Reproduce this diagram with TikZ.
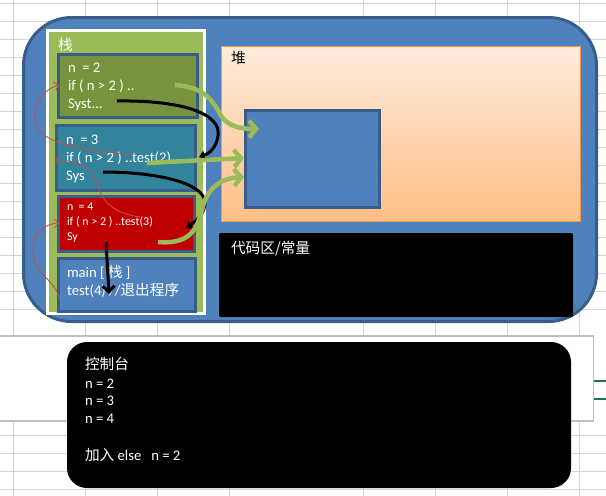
\documentclass[tikz,border=0pt]{standalone}
\usepackage{fontspec}
\setmainfont{Carlito}
\newfontfamily\cjk{Noto Sans CJK SC}
\usetikzlibrary{arrows.meta}
\definecolor{mainblue}{HTML}{4F81BD}
\definecolor{darkblue}{HTML}{385D8A}
\definecolor{stackgreen}{HTML}{9BBB59}
\definecolor{framegreen}{HTML}{77933C}
\definecolor{frameteal}{HTML}{31849B}
\definecolor{framered}{HTML}{C00000}
\definecolor{redline}{HTML}{C0504D}
\definecolor{heapborder}{HTML}{F79646}
\definecolor{heaptop}{HTML}{FFEBDD}
\definecolor{heapbot}{HTML}{FFBF86}
\definecolor{gridgray}{HTML}{D4D4D4}
\definecolor{boxgray}{HTML}{BFBFBF}
\definecolor{xlgreen}{HTML}{217346}
\begin{document}
\begin{tikzpicture}[x=1pt,y=-1pt,
  box/.style={inner sep=0pt, outer sep=0pt, anchor=north west},
  framebox/.style={box, draw=darkblue, line width=3pt},
  txt/.style={anchor=base west, inner sep=0pt, outer sep=0pt, text=white, font=\fontsize{14.67}{18}\selectfont},
  smalltxt/.style={txt, font=\fontsize{12}{15}\selectfont},
  greenarrow/.style={draw=stackgreen, line width=4.5pt, -{Straight Barb[length=7pt,width=17pt]}},
  blackarrow/.style={draw=black, line width=3pt, -{Triangle[length=6pt,width=9pt]}},
  blackbarb/.style={draw=black, line width=3pt, -{Straight Barb[length=6pt,width=12pt]}},
  redarrow/.style={draw=redline, line width=0.9pt, -{Straight Barb[length=4pt,width=9pt]}},
  gridline/.style={draw=gridgray, line width=1pt}
]
\useasboundingbox (0,0) rectangle (606,496);
\begin{scope}
\clip (0,0) rectangle (606,496);
% spreadsheet grid
\foreach \gx in {13,85,157,229,363,435,507,579}
  \draw[gridline] (\gx,0) -- (\gx,496);
\foreach \k in {0,...,17,24,25,26,27}
  \draw[gridline] (0,3.3+18*\k) -- (606,3.3+18*\k);
% text box of the sheet
\node[box, fill=white, draw=boxgray, line width=1.5pt, minimum width=595.5pt, minimum height=85pt] (sheetbox) at (-2,335.75) {};
\draw[draw=xlgreen, line width=2pt] (sheetbox.east |- 0,381) -- (606,381);
\draw[draw=xlgreen, line width=2pt] (sheetbox.east |- 0,399) -- (606,399);
\end{scope}

% console
\node[box, fill=black, rounded corners=20pt, minimum width=504pt, minimum height=146pt] (console) at (67,342) {};
\node[txt] (c0) at (85,369.5) {\cjk 控制台};
\node[txt] (c1) at (85,388) {n = 2};
\node[txt] (c2) at (85,405.8) {n = 3};
\node[txt] (c3) at (85,423.5) {n = 4};
\node[txt] (c4) at (85,460) {{\cjk 加入} else~~ n = 2};

% memory
\node[box, fill=mainblue, draw=darkblue, line width=3pt, rounded corners=48pt, minimum width=573pt, minimum height=304pt] (mem) at (23.5,17.5) {};

% stack
\node[box, fill=stackgreen, draw=white, line width=3pt, minimum width=157pt, minimum height=283pt] (stack) at (47.5,30.5) {};
\node[txt] (stacklabel) at (58,50) {\cjk 栈};
\node[framebox, fill=framegreen, minimum width=139pt, minimum height=63pt] (f1) at (58.5,54.5) {};
\node[framebox, fill=frameteal, minimum width=139pt, minimum height=65pt] (f2) at (56.5,125.5) {};
\node[framebox, fill=framered, minimum width=136pt, minimum height=55pt] (f3) at (58.5,196.5) {};
\node[framebox, fill=mainblue, minimum width=137pt, minimum height=53pt] (f4) at (58.5,258.5) {};

\node[txt] (f1a) at (68,72.5) {n~ = 2};
\node[txt] (f1b) at (68,90.5) {if ( n > 2 ) ..};
\node[txt] (f1c) at (68,108.5) {Syst...};
\node[txt] (f2a) at (66,144) {n~ = 3};
\node[txt] (f2b) at (66,162) {if ( n > 2 ) ..test(2)};
\node[txt] (f2c) at (66,180) {Sys};
\node[smalltxt] (f3a) at (67,210.6) {n~ = 4};
\node[smalltxt] (f3b) at (67,225.6) {if ( n > 2 ) ..test(3)};
\node[smalltxt] (f3c) at (67,240.6) {Sy};
\node[txt] (f4a) at (67,277) {main [ {\cjk 栈} ]};
\node[txt] (f4b) at (67,295) {test(4) //{\cjk 退出程序}};

% heap
\node[box, draw=heapborder, line width=1pt, top color=heaptop, bottom color=heapbot, minimum width=359pt, minimum height=175pt] (heap) at (221.5,46.5) {};
\node[txt, text=black] (heaplabel) at (231,63.5) {\cjk 堆};
\node[box, fill=mainblue, draw=darkblue, line width=3pt, minimum width=134pt, minimum height=97pt] (obj) at (245.5,110.5) {};

% code area
\node[box, fill=black, rounded corners=2pt, minimum width=354pt, minimum height=84pt] (code) at (219,233) {};
\node[txt] (codelabel) at (231,253.5) {\cjk 代码区/常量};

% connector end points
\coordinate (b1s) at (117,101);
\coordinate (b1e) at (199,157);
\coordinate (b2s) at (103,172);
\coordinate (b2e) at (186,228);
\coordinate (b3s) at (106,242);
\coordinate (b3e) at (109,294);
\coordinate (g1s) at (175,85);
\coordinate (g1e) at (259,129);
\coordinate (g2s) at (147,163);
\coordinate (g2e) at (244,158);
\coordinate (g3s) at (158,242);
\coordinate (g3e) at (244,177);
\coordinate (r1s) at (133,155);
\coordinate (r1e) at (59,85);
\coordinate (r2s) at (140,217);
\coordinate (r2e) at (55,160);
\coordinate (r3s) at (60,300);
\coordinate (r3e) at (59,223);

% black arrows
\draw[blackarrow] (b1s) .. controls (180,100) and (222,113) .. (218,136) .. controls (216,149) and (208,154) .. (b1e);
\draw[blackarrow] (b2s) .. controls (160,172) and (207,184) .. (205,204) .. controls (204,215) and (195,222) .. (b2e);
\draw[blackbarb] (b3s) .. controls (107,260) and (108,275) .. (b3e);

% green arrows
\draw[greenarrow] (g1s) .. controls (203,87) and (212,99) .. (220,114) .. controls (226,125) and (238,129) .. (g1e);
\draw[greenarrow] (g2s) -- (g2e);
\draw[greenarrow] (g3s) .. controls (195,245) and (198,224) .. (204,203) .. controls (210,185) and (224,178) .. (g3e);

% red arrows
\draw[redarrow] (r1s) .. controls (90,150) and (44,146) .. (36,125) .. controls (31,106) and (42,90) .. (r1e);
\draw[redarrow] (r2s) .. controls (105,212) and (100,194) .. (95,178) .. controls (90,165) and (72,160) .. (r2e);
\draw[redarrow] (r3s) .. controls (55,278) and (33,275) .. (33,250) .. controls (33,232) and (45,224) .. (r3e);
\end{tikzpicture}
\end{document}
